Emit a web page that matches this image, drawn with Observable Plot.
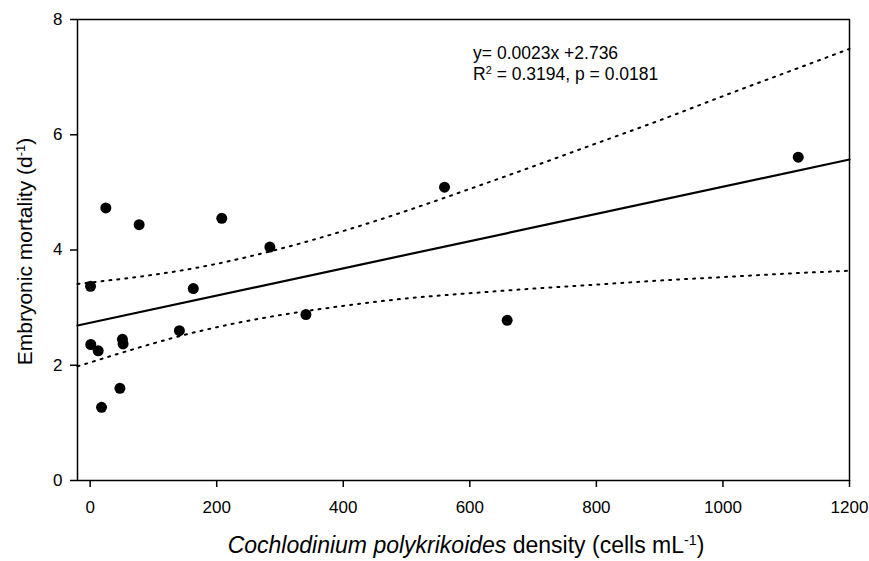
<!DOCTYPE html>
<html>
<head>
<meta charset="utf-8">
<script src="https://cdn.jsdelivr.net/npm/d3@7"></script>
<script src="https://cdn.jsdelivr.net/npm/@observablehq/plot@0.6"></script>
<style>
  html, body { margin: 0; padding: 0; background: #fff; }
  #chart svg { display: block; }
</style>
</head>
<body>
<div id="chart"></div>
<script>
// Observed points
const density   = [0.6, 1, 12.7, 18, 24.8, 47, 51, 52, 77.4, 141, 163, 208, 284, 341, 560, 659, 1119];
const mortality = [3.37, 2.36, 2.25, 1.27, 4.73, 1.60, 2.45, 2.37, 4.44, 2.60, 3.33, 4.55, 4.05, 2.88, 5.09, 2.78, 5.61];

// Fitted regression line (read at the frame edges)
const fitX = [-20, 1200];
const fitY = [2.69, 5.57];

// 95% confidence band
const ciX     = [-20, 100, 200, 300, 400, 500, 600, 700, 800, 900, 1000, 1100, 1200];
const ciUpper = [3.41, 3.57, 3.76, 4.02, 4.33, 4.68, 5.06, 5.45, 5.85, 6.25, 6.67, 7.08, 7.49];
const ciLower = [1.98, 2.38, 2.66, 2.87, 3.03, 3.16, 3.25, 3.33, 3.40, 3.47, 3.53, 3.59, 3.64];

const xTicks = [0, 200, 400, 600, 800, 1000, 1200];
const yTicks = [0, 2, 4, 6, 8];

const points = density.map((d, i) => ({x: d, y: mortality[i]}));
const fit = fitX.map((d, i) => ({x: d, y: fitY[i]}));
const upper = ciX.map((d, i) => ({x: d, y: ciUpper[i]}));
const lower = ciX.map((d, i) => ({x: d, y: ciLower[i]}));

const FONT = "'Liberation Sans', Arial, Helvetica, sans-serif";

function svgText(parent, x, y, parts, size, extra = {}) {
  const t = parent.append("text")
    .attr("x", x).attr("y", y)
    .attr("font-size", size)
    .attr("font-family", FONT)
    .attr("fill", "black")
    .attr("text-anchor", "start");
  for (const [k, v] of Object.entries(extra)) t.attr(k, v);
  for (const p of parts) {
    const s = t.append("tspan").text(p.t);
    if (p.italic) s.attr("font-style", "italic");
    if (p.sup) s.attr("baseline-shift", "super").attr("font-size", size * 0.62);
  }
  return t;
}

const annotationMark = (index, scales) => {
  const g = d3.create("svg:g");
  const x0 = scales.x(606);
  svgText(g, x0, scales.y(7.30), [{t: "y= 0.0023x +2.736"}], 17.5);
  svgText(g, x0, scales.y(6.94), [{t: "R"}, {t: "2", sup: true}, {t: " = 0.3194, p = 0.0181"}], 17.5);
  return g.node();
};

const axisLabelsMark = (index, scales, values, dims) => {
  const g = d3.create("svg:g");
  const cx = (dims.marginLeft + dims.width - dims.marginRight) / 2;
  const cy = (dims.marginTop + dims.height - dims.marginBottom) / 2;
  svgText(g, cx + 3, dims.height - 8, [
    {t: "Cochlodinium polykrikoides", italic: true},
    {t: " density (cells mL"},
    {t: "-1", sup: true},
    {t: ")"}
  ], 23, {"text-anchor": "middle"});
  svgText(g, 0, 0, [
    {t: "Embryonic mortality (d"},
    {t: "-1", sup: true},
    {t: ")"}
  ], 21, {"text-anchor": "middle", "transform": `translate(32,${cy + 2}) rotate(-90)`});
  return g.node();
};

const chart = Plot.plot({
  width: 869,
  height: 561,
  marginLeft: 77,
  marginRight: 20,
  marginTop: 19,
  marginBottom: 81,
  style: {fontFamily: FONT, background: "white", color: "black"},
  x: {domain: [-20, 1200], ticks: xTicks, label: null},
  y: {domain: [0, 8], ticks: yTicks, label: null},
  marks: [
    Plot.line(upper, {x: "x", y: "y", curve: "natural", stroke: "black", strokeWidth: 2, strokeDasharray: "2,6"}),
    Plot.line(lower, {x: "x", y: "y", curve: "natural", stroke: "black", strokeWidth: 2, strokeDasharray: "2,6"}),
    Plot.line(fit, {x: "x", y: "y", stroke: "black", strokeWidth: 2.2}),
    Plot.dot(points, {x: "x", y: "y", r: 5.5, fill: "black", stroke: "none"}),
    Plot.frame({stroke: "black", strokeWidth: 1.5}),
    Plot.axisX({ticks: xTicks, tickSize: 7, tickPadding: 13, fontSize: 17, tickFormat: d => String(d), strokeWidth: 1.5, label: null}),
    Plot.axisY({ticks: yTicks, tickSize: 7, tickPadding: 8, fontSize: 17, tickFormat: d => String(d), strokeWidth: 1.5, label: null}),
    annotationMark,
    axisLabelsMark
  ]
});
document.getElementById("chart").appendChild(chart);
</script>
</body>
</html>
